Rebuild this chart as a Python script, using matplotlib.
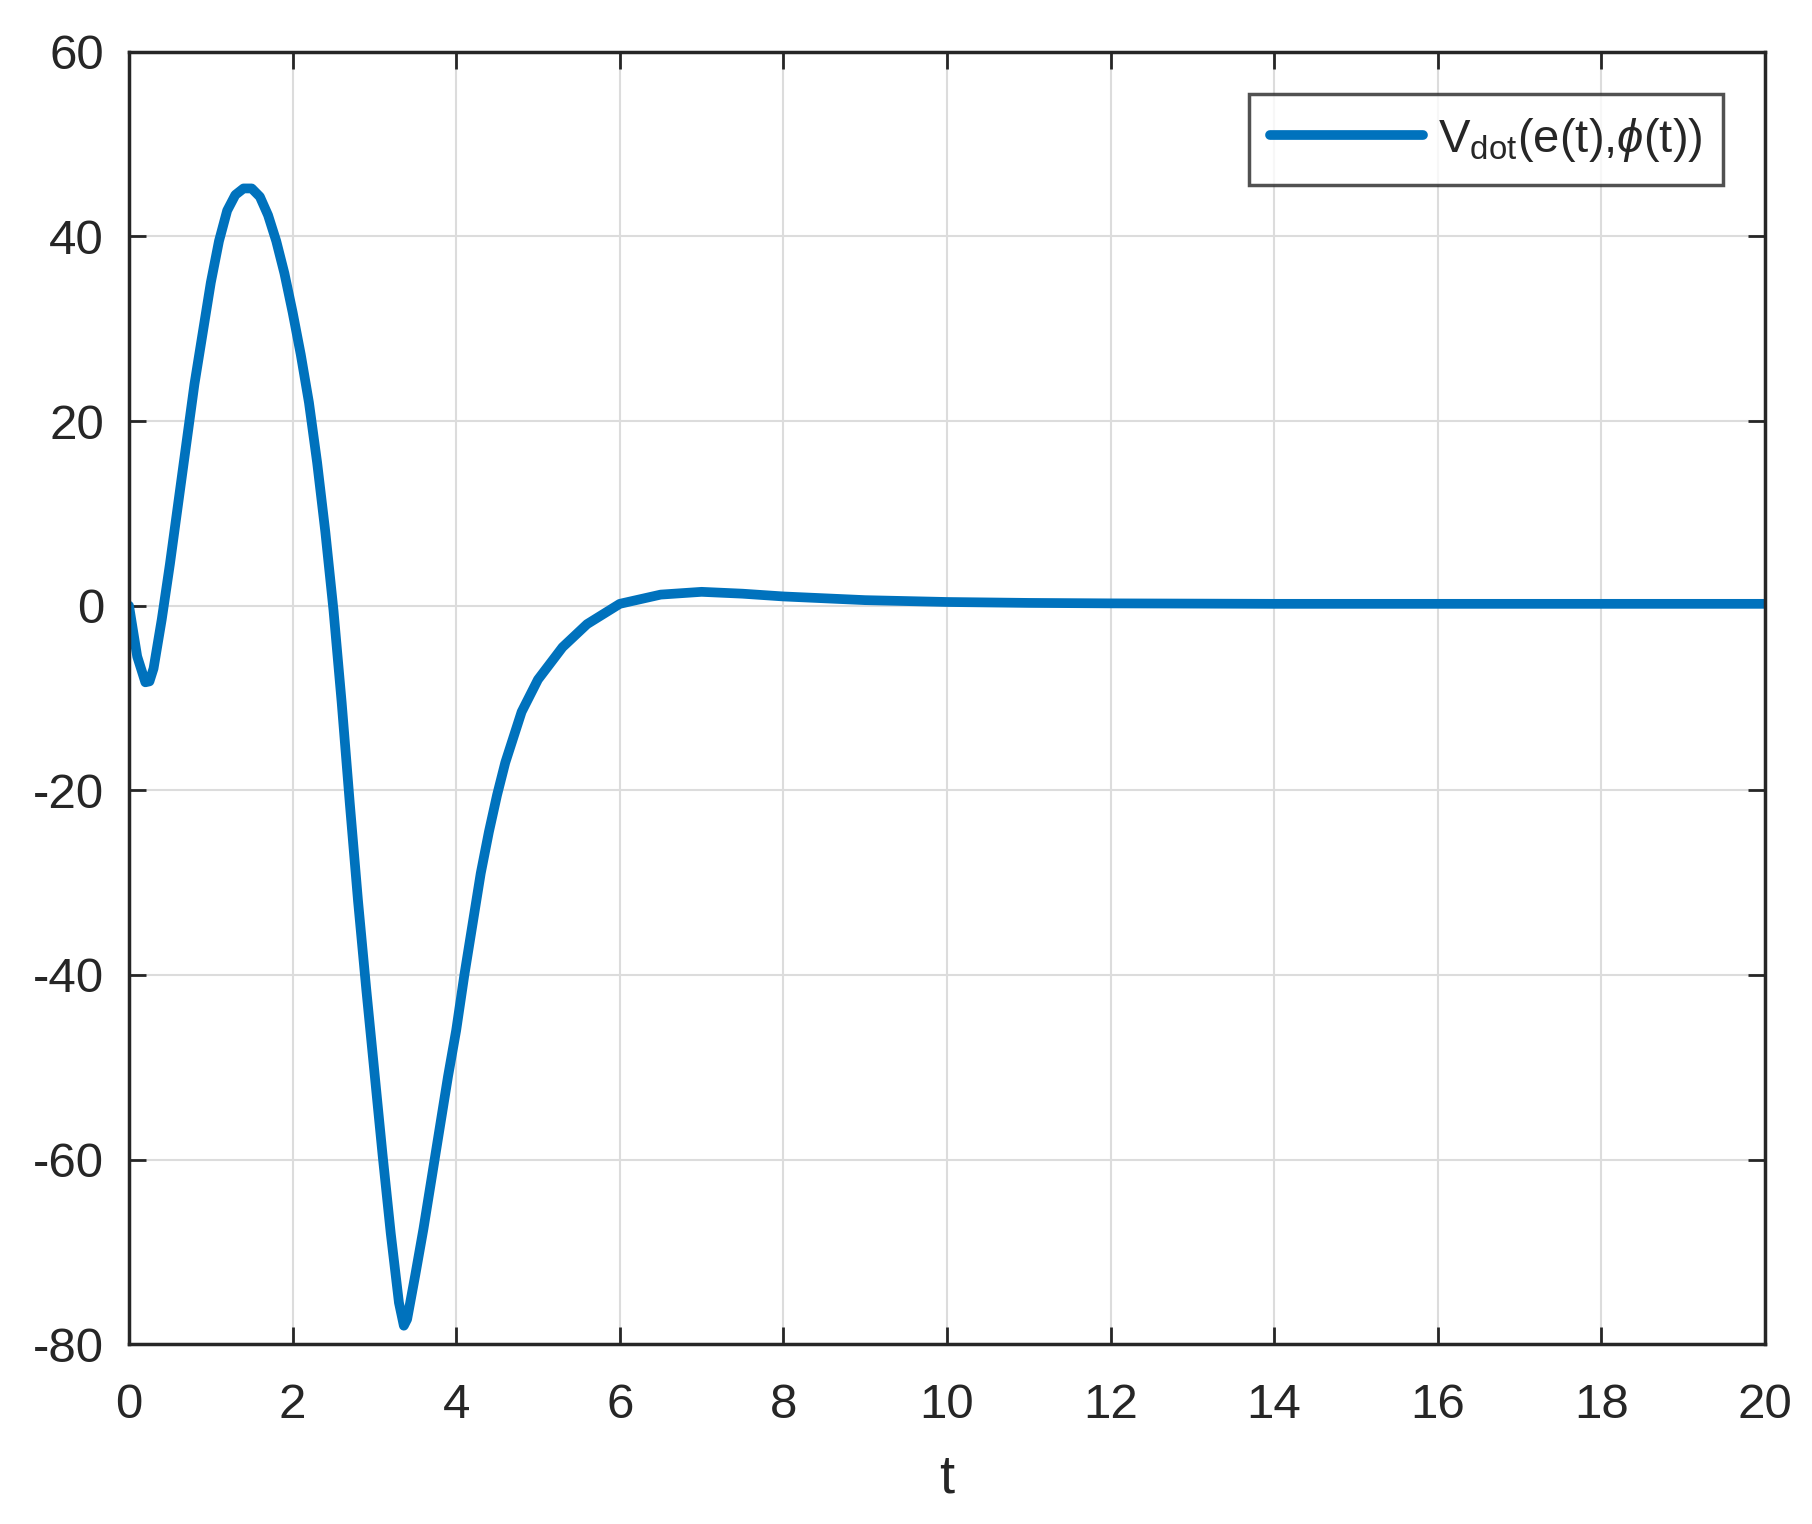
import matplotlib
matplotlib.use("Agg")
import matplotlib.pyplot as plt

t = [0, 0.1, 0.2, 0.25, 0.3, 0.4, 0.5, 0.6, 0.7, 0.8, 0.9, 1.0, 1.1, 1.2,
     1.3, 1.4, 1.5, 1.6, 1.7, 1.8, 1.9, 2.0, 2.1, 2.2, 2.3, 2.4, 2.5, 2.6,
     2.7, 2.8, 2.9, 3.0, 3.1, 3.2, 3.3, 3.36, 3.4, 3.5, 3.6, 3.7, 3.8, 3.9,
     4.0, 4.1, 4.2, 4.3, 4.4, 4.5, 4.6, 4.8, 5.0, 5.3, 5.6, 6.0, 6.5, 7.0,
     7.5, 8.0, 9, 10, 11, 12, 14, 16, 18, 20]
v_dot = [0, -5.5, -8.3, -8.2, -6.8, -1.5, 4.5, 11.0, 17.5, 24.0, 29.5, 35.0,
         39.5, 42.8, 44.5, 45.2, 45.2, 44.3, 42.3, 39.5, 36.0, 31.8, 27.2,
         22.0, 15.5, 8.0, -0.5, -10.5, -21.5, -32.0, -41.5, -50.5, -59.5,
         -68.0, -75.5, -78.0, -77.3, -72.5, -67.5, -62.0, -56.5, -51.0,
         -46.0, -40.0, -34.5, -29.0, -24.5, -20.5, -17.0, -11.5, -8.0, -4.5,
         -2.0, 0.2, 1.2, 1.5, 1.3, 1.0, 0.6, 0.4, 0.3, 0.25, 0.2, 0.2, 0.2,
         0.2]

x_ticks = [0, 2, 4, 6, 8, 10, 12, 14, 16, 18, 20]
y_ticks = [-80, -60, -40, -20, 0, 20, 40, 60]
legend_label = r'$\mathrm{V}_{\mathrm{dot}}$(e(t),$\phi$(t))'
x_label = 't'

plt.rcParams['font.family'] = ['Liberation Sans', 'DejaVu Sans']
plt.rcParams['mathtext.fontset'] = 'custom'
plt.rcParams['mathtext.rm'] = 'Liberation Sans'
plt.rcParams['mathtext.it'] = 'Liberation Sans:italic'
plt.rcParams['axes.unicode_minus'] = False

fig = plt.figure(figsize=(18.12, 15.24), dpi=100)
ax = fig.add_axes([0.0712, 0.118, 0.9028, 0.848])

dark = '#262626'
ax.plot(t, v_dot, color='#0072BD', linewidth=7, label=legend_label,
        solid_joinstyle='round', solid_capstyle='round')

ax.set_xlim(0, 20)
ax.set_ylim(-80, 60)
ax.set_xticks(x_ticks)
ax.set_yticks(y_ticks)
ax.grid(True, color='#dcdcdc', linewidth=1.5)
ax.set_axisbelow(True)
ax.tick_params(direction='in', length=12, width=2, colors=dark,
               labelsize=35.5, top=True, right=True)
ax.tick_params(axis='x', pad=28)
ax.tick_params(axis='y', pad=18)
for s in ax.spines.values():
    s.set_color(dark)
    s.set_linewidth(2.5)
ax.set_xlabel(x_label, fontsize=39, color=dark, labelpad=18)

leg = ax.legend(loc='upper right', fontsize=34, frameon=True, fancybox=False,
                edgecolor=dark, handlelength=3.25, handletextpad=0.3,
                borderpad=0.45, borderaxespad=0,
                bbox_to_anchor=(0.9746, 0.967))
leg.get_frame().set_linewidth(2.5)
for txt in leg.get_texts():
    txt.set_color(dark)

fig.savefig('out.png', dpi=100, facecolor='white')
